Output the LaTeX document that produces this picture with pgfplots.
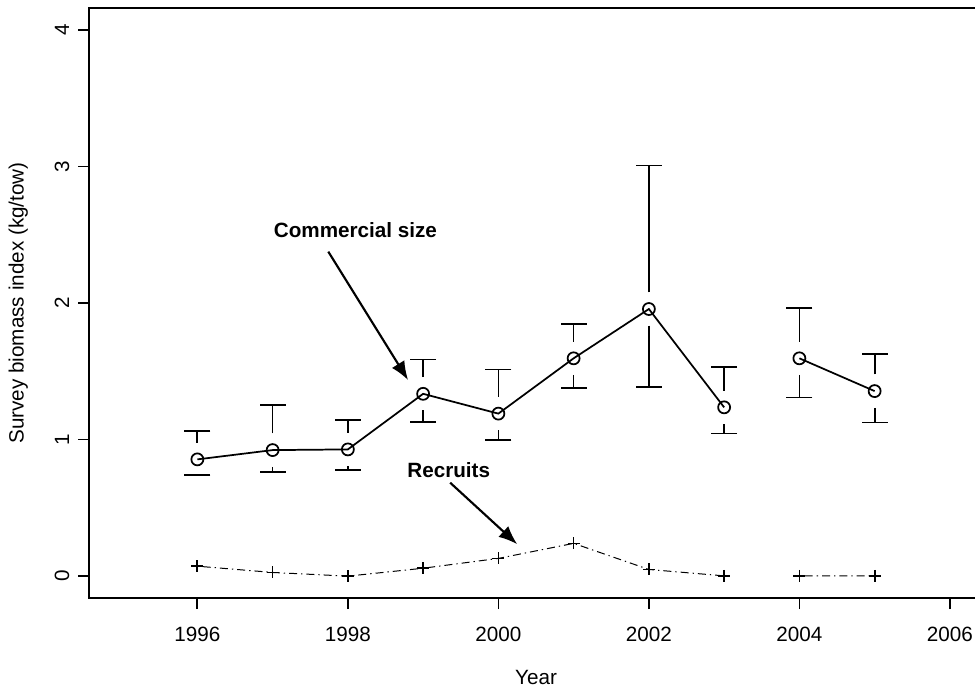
\documentclass[border=0pt]{standalone}
\usepackage{pgfplots}
\pgfplotsset{compat=1.18}
\usepackage{fontspec}
\setmainfont{Liberation Sans}
\usetikzlibrary{arrows.meta}
\newcommand{\rfont}{\fontsize{15.5}{18}\selectfont}
\begin{document}
\begin{tikzpicture}
\begin{axis}[
  scale only axis, width=670.5pt, height=442.5pt,
  xmin=1994.56, xmax=2006.44, ymin=-0.16, ymax=4.16,
  unbounded coords=jump,
  axis line style={line width=1.3pt},
  tick pos=left, tick align=outside,
  major tick length=8.25pt,
  every tick/.style={line width=1.3pt, black},
  xtick={1996,1998,2000,2002,2004,2006},
  ytick={0,1,2,3,4},
  /pgf/number format/assume math mode=true,
  /pgf/number format/1000 sep={},
  ticklabel style={font=\rfont},
  xticklabel style={anchor=center, inner sep=0pt, yshift=-18.75pt},
  yticklabel style={rotate=90, anchor=center, inner sep=0pt, yshift=12pt},
  xlabel={Year}, ylabel={Survey biomass index (kg/tow)},
  xlabel style={font=\rfont, at={(axis description cs:0.5,0)}, anchor=center, yshift=-59.25pt},
  ylabel style={font=\rfont, at={(axis description cs:0,0.5)}, anchor=center, yshift=53pt},
  clip=false,
]
\coordinate (SW) at (rel axis cs:0,0);
% commercial size: mean
\addplot[black, line width=1.3pt, mark=o, mark size=4.5pt, mark options={solid, line width=1.3pt}] coordinates {
 (1996,0.855) (1997,0.923) (1998,0.928) (1999,1.335) (2000,1.190) (2001,1.595) (2002,1.956) (2003,1.236)
 (2003.5,nan) (2004,1.595) (2005,1.355)};
% upper caps
\addplot[only marks, mark=-, mark size=9.75pt, mark options={line width=1.3pt}] coordinates {
 (1996,1.065) (1997,1.253) (1998,1.143) (1999,1.587) (2000,1.514) (2001,1.846) (2002,3.006) (2003,1.533) (2004,1.961) (2005,1.626)};
% lower caps
\addplot[only marks, mark=-, mark size=9.75pt, mark options={line width=1.3pt}] coordinates {
 (1996,0.740) (1997,0.764) (1998,0.777) (1999,1.130) (2000,0.996) (2001,1.375) (2002,1.387) (2003,1.045) (2004,1.309) (2005,1.126)};
% vertical error segments (with gap around the point)
\addplot[black, line width=1.3pt, no marks] coordinates {
 (1996,0.977) (1996,1.065) (1996,nan)
 (1997,1.045) (1997,1.253) (1997,nan) (1997,0.801) (1997,0.764) (1997,nan)
 (1998,1.050) (1998,1.143) (1998,nan) (1998,0.806) (1998,0.777) (1998,nan)
 (1999,1.457) (1999,1.587) (1999,nan) (1999,1.213) (1999,1.130) (1999,nan)
 (2000,1.312) (2000,1.514) (2000,nan) (2000,1.068) (2000,0.996) (2000,nan)
 (2001,1.717) (2001,1.846) (2001,nan) (2001,1.473) (2001,1.375) (2001,nan)
 (2002,2.078) (2002,3.006) (2002,nan) (2002,1.834) (2002,1.387) (2002,nan)
 (2003,1.358) (2003,1.533) (2003,nan) (2003,1.114) (2003,1.045) (2003,nan)
 (2004,1.717) (2004,1.961) (2004,nan) (2004,1.473) (2004,1.309) (2004,nan)
 (2005,1.477) (2005,1.626) (2005,nan) (2005,1.233) (2005,1.126)};
% recruits
\addplot[black, line width=0.75pt, dash pattern=on 1pt off 3pt on 6pt off 3pt, mark=+, mark size=4.5pt, mark options={solid, line width=1.3pt}] coordinates {
 (1996,0.073) (1997,0.027) (1998,0.000) (1999,0.058) (2000,0.130) (2001,0.240) (2002,0.049) (2003,0.002)
 (2003.5,nan) (2004,0.002) (2005,0.002)};
% annotations
\node[font=\rfont\bfseries] at (axis cs:1998.10,2.535) {Commercial size};
\draw[line width=1.6pt, -{Latex[length=14pt,width=11pt]}] (axis cs:1997.74,2.376) -- (axis cs:1998.80,1.436);
\node[font=\rfont\bfseries] at (axis cs:1999.34,0.777) {Recruits};
\draw[line width=1.6pt, -{Latex[length=14pt,width=11pt]}] (axis cs:1999.36,0.684) -- (axis cs:2000.25,0.234);
\end{axis}
\pgfresetboundingbox
\path ([shift={(-66.75pt,-69pt)}]SW) rectangle ([shift={(664.5pt,448.5pt)}]SW);
\end{tikzpicture}
\end{document}
